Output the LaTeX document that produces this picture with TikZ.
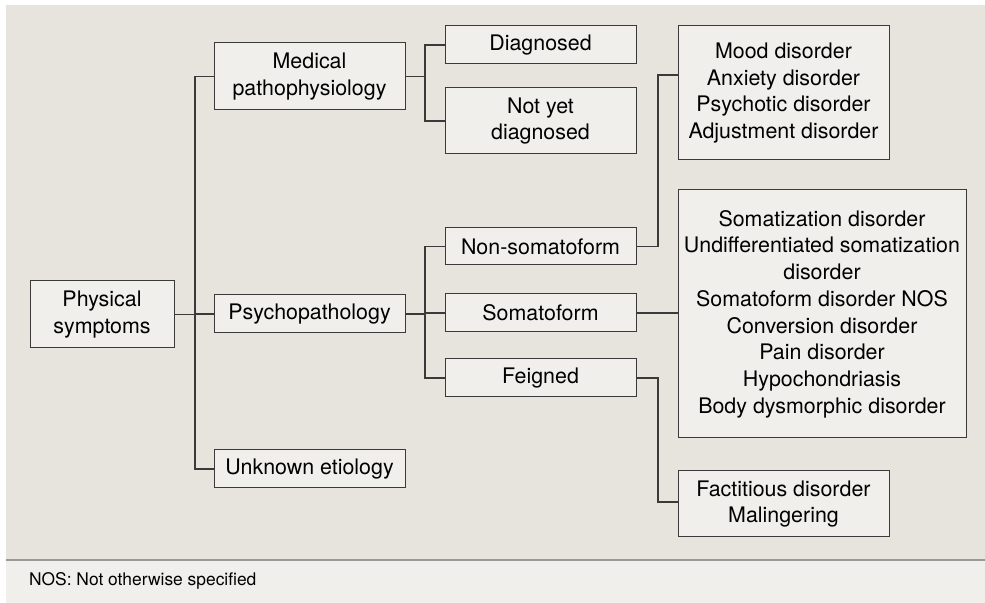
\documentclass[tikz,border=0pt]{standalone}
\usepackage{fontspec}
\setmainfont{TeX Gyre Heros}
\usetikzlibrary{positioning,calc}
\definecolor{panel}{HTML}{E7E3DD}
\definecolor{boxfill}{HTML}{F1EFEB}
\definecolor{ink}{HTML}{3A3A3A}
\begin{document}
\begin{tikzpicture}[x=0.5pt, y=-0.5pt,
    box/.style={draw=ink, fill=boxfill, line width=0.5pt, align=center, inner sep=2pt,
      font=\fontsize{10.7}{13.35}\selectfont},
    wire/.style={draw=ink, line width=0.6pt}]
        \useasboundingbox (0,0) rectangle (985,603);
        %background
        \fill[panel] (6,5) rectangle (985,560);
        \fill[boxfill] (6,560) rectangle (985,603);
        \draw[gray!80, line width=0.6pt] (6,560) -- (985,560);
        \node[anchor=west, font=\fontsize{8.7}{10}\selectfont] (note) at (22,581) {NOS: Not otherwise specified};
        %nodes
        \node[box, minimum width=72pt, minimum height=33.5pt] (phys) at (102,314.5) {Physical\\symptoms};
        \node[box, minimum width=95.5pt, minimum height=33.5pt] (med) at (309.5,76.5) {Medical\\pathophysiology};
        \node[box, minimum width=95.5pt, minimum height=19pt] (psy) at (309.5,314) {Psychopathology};
        \node[box, minimum width=95.5pt, minimum height=19pt] (unk) at (309.5,469) {Unknown etiology};
        \node[box, minimum width=95.5pt, minimum height=19pt] (diag) at (540.5,45) {Diagnosed};
        \node[box, minimum width=95.5pt, minimum height=33pt] (notyet) at (540.5,121) {Not yet\\diagnosed};
        \node[box, minimum width=95.5pt, minimum height=18.5pt] (nonsom) at (540.5,246.5) {Non-somatoform};
        \node[box, minimum width=95.5pt, minimum height=19pt] (som) at (540.5,313) {Somatoform};
        \node[box, minimum width=95.5pt, minimum height=19pt] (feig) at (540.5,378) {Feigned};
        \node[box, minimum width=105.5pt, minimum height=67pt] (mood) at (783.5,93) {Mood disorder\\Anxiety disorder\\Psychotic disorder\\Adjustment disorder};
        \node[box, minimum width=144pt, minimum height=124pt] (somlist) at (822,314) {Somatization disorder\\Undifferentiated somatization\\disorder\\Somatoform disorder NOS\\Conversion disorder\\Pain disorder\\Hypochondriasis\\Body dysmorphic disorder};
        \node[box, minimum width=105.5pt, minimum height=33pt] (fact) at (783.5,504) {Factitious disorder\\Malingering};
        %junctions
        \coordinate (j1) at (195,314.5);
        \coordinate (j2) at (425,76.5);
        \coordinate (j3) at (425,314);
        \coordinate (k1) at (658,75);
        \coordinate (k2) at (658,502);
        %edges
        \path [wire] (phys.east) -- (j1);
        \path [wire] (j1) |- (med.west);
        \path [wire] (j1) |- (psy.west);
        \path [wire] (j1) |- (unk.west);
        \path [wire] (med.east) -- (j2);
        \path [wire] (j2) |- (diag.west);
        \path [wire] (j2) |- (notyet.west);
        \path [wire] (psy.east) -- (j3);
        \path [wire] (j3) |- (nonsom.west);
        \path [wire] (j3) |- (som.west);
        \path [wire] (j3) |- (feig.west);
        \path [wire] (nonsom.east) -| (k1) -- (k1 -| mood.west);
        \path [wire] (som.east) -- (som.east -| somlist.west);
        \path [wire] (feig.east) -| (k2) -- (k2 -| fact.west);
\end{tikzpicture}
\end{document}
